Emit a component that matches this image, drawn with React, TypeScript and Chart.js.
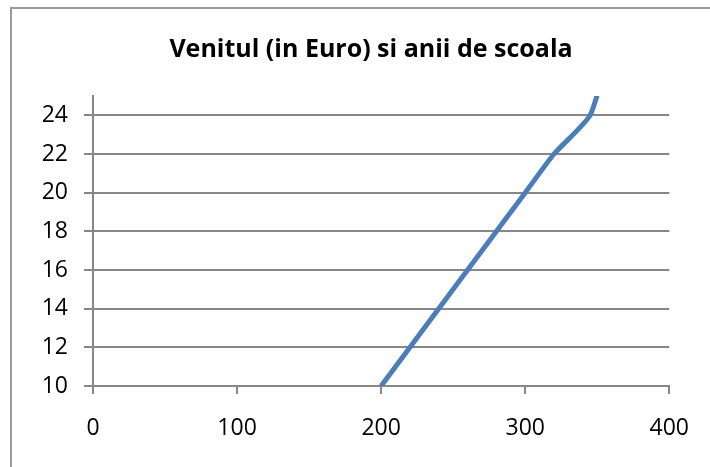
import React, { useEffect, useRef } from "react";
import { Chart, registerables } from "chart.js";

Chart.register(...registerables);

const titleText = "Venitul (in Euro) si anii de scoala";
const venit = [200, 300, 320, 345, 357];
const aniScoala = [10, 20, 22, 24, 27];
const xTicks = [0, 100, 200, 300, 400];
const yTicks = [10, 12, 14, 16, 18, 20, 22, 24];

const GRID = "#878787";
const LINE = "#4A7EBB";

const frame = {
  id: "frame",
  beforeDraw(chart: any) {
    const ctx = chart.ctx;
    ctx.save();
    ctx.fillStyle = "#ffffff";
    ctx.fillRect(0, 0, chart.width, chart.height);
    ctx.strokeStyle = "#9a9a9a";
    ctx.lineWidth = 2;
    ctx.beginPath();
    ctx.moveTo(11, chart.height);
    ctx.lineTo(11, 8);
    ctx.lineTo(chart.width, 8);
    ctx.stroke();
    ctx.fillStyle = "#000";
    ctx.font = "bold 25px 'Open Sans'";
    ctx.textAlign = "center";
    ctx.textBaseline = "alphabetic";
    ctx.fillText(titleText, 371, 57);
    ctx.restore();
  },
};

export default function App() {
  const ref = useRef<HTMLCanvasElement | null>(null);
  useEffect(() => {
    if (!ref.current) return;
    const chart = new Chart(ref.current, {
      type: "scatter",
      data: {
        datasets: [
          {
            data: venit.map((v, i) => ({ x: v, y: aniScoala[i] })),
            showLine: true,
            borderColor: LINE,
            backgroundColor: LINE,
            borderWidth: 5,
            pointRadius: 0,
            tension: 0.2,
            clip: 0,
          } as any,
        ],
      },
      plugins: [frame],
      options: {
        animation: false,
        responsive: false,
        layout: { padding: { left: 20, right: 33, top: 96, bottom: 0 } },
        plugins: {
          legend: { display: false },
          tooltip: { enabled: false },
          title: { display: false },
        },
        scales: {
          x: {
            type: "linear",
            min: 0,
            max: 400,
            afterBuildTicks: (s: any) => {
              s.ticks = xTicks.map((v) => ({ value: v }));
            },
            afterFit: (s: any) => {
              s.height = 467 - 386;
            },
            grid: {
              drawOnChartArea: false,
              color: GRID,
              lineWidth: 2,
              tickLength: 8,
            },
            border: { display: true, color: GRID, width: 2 },
            ticks: {
              color: "#000",
              padding: 21,
              maxRotation: 0,
              font: { family: "Open Sans", size: 23 },
            },
          },
          y: {
            type: "linear",
            min: 10,
            max: 25,
            afterBuildTicks: (s: any) => {
              s.ticks = yTicks.map((v) => ({ value: v }));
            },
            afterFit: (s: any) => {
              s.width = 93 - 20;
            },
            grid: { color: GRID, lineWidth: 2, tickLength: 9 },
            border: { display: true, color: GRID, width: 2 },
            ticks: {
              color: "#000",
              padding: 16,
              font: { family: "Open Sans", size: 23 },
            },
          },
        },
      },
    });
    return () => chart.destroy();
  }, []);
  return (
    <div style={{ width: 710, height: 467 }}>
      <canvas
        ref={ref}
        width={710}
        height={467}
        style={{ position: "absolute", left: 0, top: 0, width: 710, height: 467 }}
      />
    </div>
  );
}
